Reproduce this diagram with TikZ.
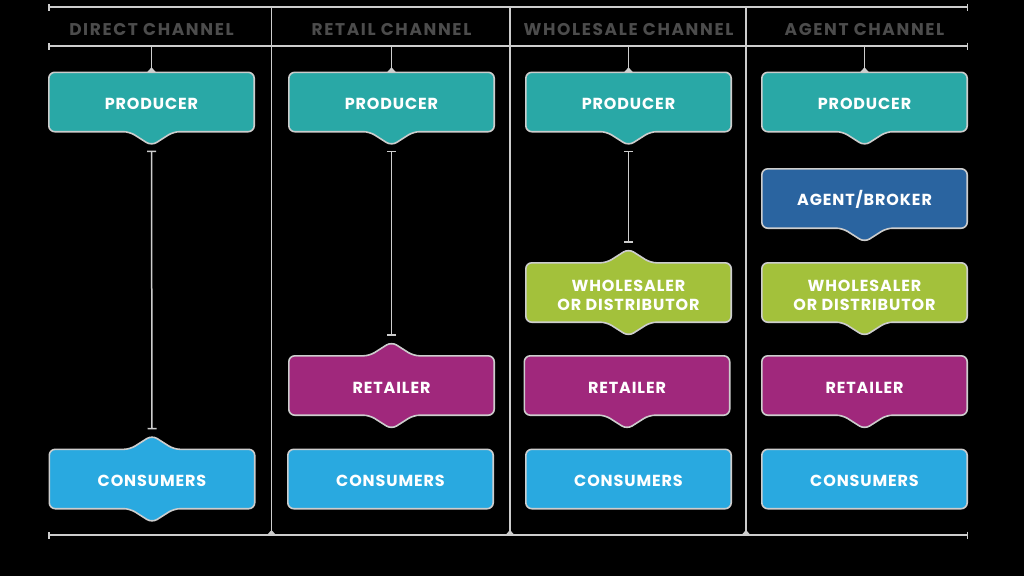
\documentclass[tikz,border=0pt]{standalone}
\usepackage{fontspec}
\setmainfont{Poppins}
\newfontfamily\boxfont[LetterSpace=5.5]{Poppins}
\newfontfamily\hdfont[LetterSpace=9.5]{Poppins}
\usetikzlibrary{arrows.meta,calc}
\pgfdeclarelayer{back}
\pgfdeclarelayer{bg}
\pgfsetlayers{back,bg,main}
\definecolor{edge}{HTML}{CDCDCD}
\definecolor{hdgray}{HTML}{4C4C4C}
\definecolor{cteal}{HTML}{29A8A6}
\definecolor{cblue}{HTML}{2A64A0}
\definecolor{cgreen}{HTML}{A3C13B}
\definecolor{cpurple}{HTML}{A0287C}
\definecolor{csky}{HTML}{29A9E0}
\tikzset{
  bx/.style={minimum width=205pt, minimum height=59pt, inner sep=0pt, text=white,
     text height=16pt, font=\boxfont\bfseries\fontsize{16}{19}\selectfont, align=center},
  bxtwo/.style={bx, text height=36.5pt, text depth=0pt},
  hd/.style={text=hdgray, text height=16pt, text depth=0pt,
     font=\hdfont\bfseries\fontsize{17}{20}\selectfont, inner sep=0pt},
  rule/.style={draw=edge, line width=1.5pt},
  ruleends/.style={rule, {Bar[width=7pt,line width=1.5pt]}-{Bar[width=7pt,line width=1.5pt]}},
  conn/.style={draw=edge, line width=1.5pt, {Bar[width=9pt,line width=1.5pt]}-{Bar[width=9pt,line width=1.5pt]}},
}
\newcommand\shp[4]{%
  \begin{pgfonlayer}{bg}
  \filldraw[fill=#2, draw=edge, line width=1.6pt, rounded corners=6pt]
    (#1.north west) -- ([xshift=-22pt]#1.north) -- ([yshift=#3]#1.north) -- ([xshift=22pt]#1.north)
    -- (#1.north east) -- (#1.south east) -- ([xshift=22pt]#1.south) -- ([yshift=-#4]#1.south)
    -- ([xshift=-22pt]#1.south) -- (#1.south west) -- cycle;
  \end{pgfonlayer}}
\newcommand\fillet[1]{%
  \fill[edge] ([xshift=-4.5pt]#1) -- ([yshift=5pt]#1) -- ([xshift=4.5pt]#1) -- cycle;}
\begin{document}
\begin{tikzpicture}[x=1pt,y=-1pt]
\begin{pgfonlayer}{back}
\fill[black] (0,0) rectangle (1024,576);
\end{pgfonlayer}
\useasboundingbox (0,0) rectangle (1024,576);
% frame lines
\coordinate (tl) at (48,7);   \coordinate (tr) at (968,7);
\coordinate (ml) at (48,46);  \coordinate (mr) at (968,46);
\coordinate (bl) at (48,535); \coordinate (br) at (968,535);
\draw[ruleends] (tl) -- (tr);
\draw[ruleends] (ml) -- (mr);
\draw[ruleends] (bl) -- (br);
\foreach \i/\x in {1/271.5,2/510,3/746}{
  \coordinate (d\i t) at (\x,7);
  \coordinate (d\i b) at (\x,535);
  \draw[rule] (d\i t) -- (d\i b);
  \fillet{d\i b}
}
% headers
\node[hd] (t1) at (151.5,27) {DIRECT CHANNEL};
\node[hd] (t2) at (391.5,27) {RETAIL CHANNEL};
\node[hd] (t3) at (628.5,27) {WHOLESALE CHANNEL};
\node[hd] (t4) at (864.5,27) {AGENT CHANNEL};
% column 1
\node[bx] (p1) at (151.5,102) {PRODUCER};
\node[bx] (c1) at (152,479) {CONSUMERS};
\shp{p1}{cteal}{0pt}{14pt}
\shp{c1}{csky}{14pt}{14pt}
% column 2
\node[bx] (p2) at (391.5,102) {PRODUCER};
\node[bx] (r2) at (391.5,385.5) {RETAILER};
\node[bx] (c2) at (390.5,479) {CONSUMERS};
\shp{p2}{cteal}{0pt}{14pt}
\shp{r2}{cpurple}{14pt}{14pt}
\shp{c2}{csky}{0pt}{0pt}
% column 3
\node[bx] (p3) at (628.5,102) {PRODUCER};
\node[bxtwo] (w3) at (628.5,292.5) {WHOLESALER\\OR DISTRIBUTOR};
\node[bx] (r3) at (627,385.5) {RETAILER};
\node[bx] (c3) at (628.5,479) {CONSUMERS};
\shp{p3}{cteal}{0pt}{14pt}
\shp{w3}{cgreen}{14pt}{14pt}
\shp{r3}{cpurple}{0pt}{14pt}
\shp{c3}{csky}{0pt}{0pt}
% column 4
\node[bx] (p4) at (864.5,102) {PRODUCER};
\node[bx] (a4) at (864.5,198.5) {AGENT/BROKER};
\node[bxtwo] (w4) at (864.5,292.5) {WHOLESALER\\OR DISTRIBUTOR};
\node[bx] (r4) at (864.5,385.5) {RETAILER};
\node[bx] (c4) at (864.5,479) {CONSUMERS};
\shp{p4}{cteal}{0pt}{14pt}
\shp{a4}{cblue}{0pt}{14pt}
\shp{w4}{cgreen}{0pt}{14pt}
\shp{r4}{cpurple}{0pt}{14pt}
\shp{c4}{csky}{0pt}{0pt}
% header to producer connectors
\foreach \i/\x in {1/151.5,2/391.5,3/628.5,4/864.5}{
  \coordinate (h\i) at (\x,46);
  \draw[rule] (h\i) -- (p\i.north);
  \fillet{p\i.north}
}
% flow connectors
\draw[conn] ([yshift=-19pt]p1.south) -- ([yshift=20pt]c1.north);
\draw[conn] ([yshift=-19pt]p2.south) -- ([yshift=20pt]r2.north);
\draw[conn] ([yshift=-19pt]p3.south) -- ([yshift=20pt]w3.north);
\end{tikzpicture}
\end{document}
